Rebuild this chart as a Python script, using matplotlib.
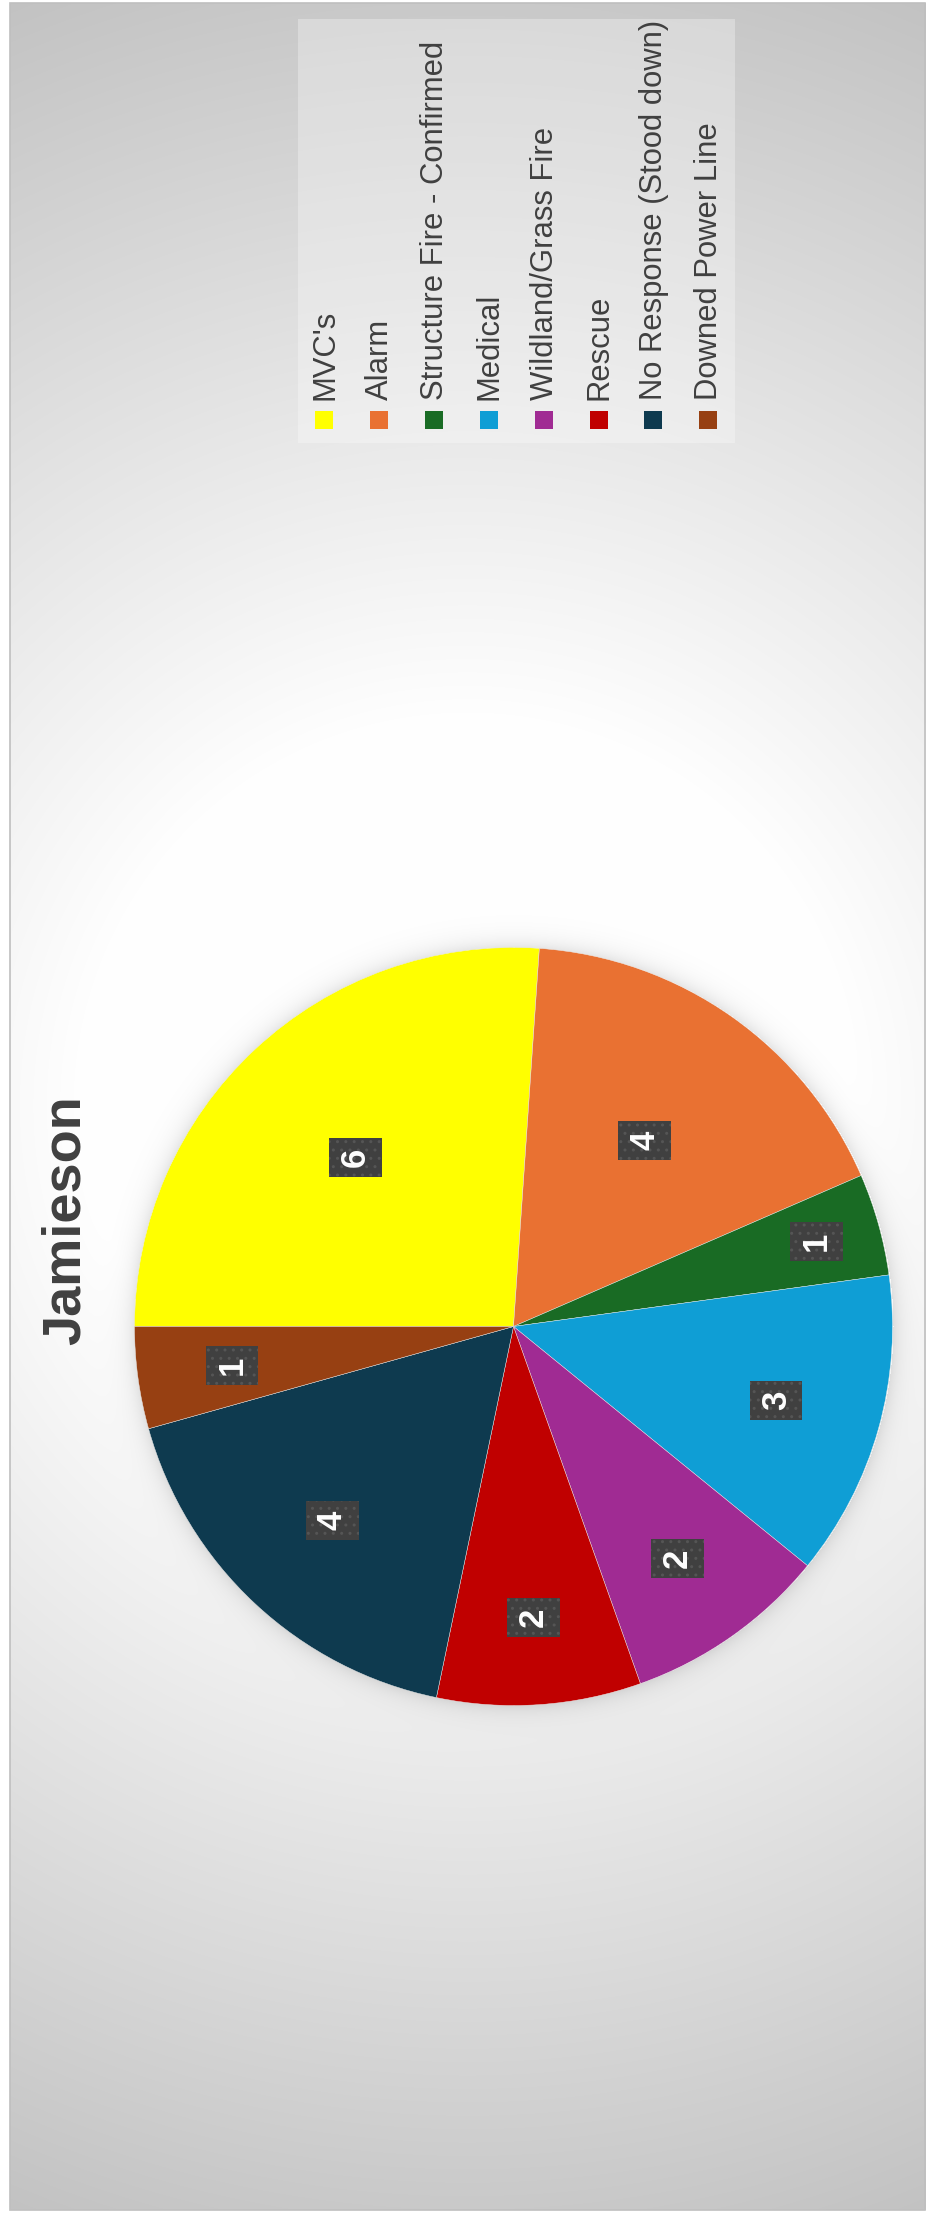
import numpy as np
import matplotlib
matplotlib.use("Agg")
import matplotlib.pyplot as plt
from matplotlib.patches import Rectangle

plt.rcParams['font.family'] = ['Liberation Sans', 'DejaVu Sans']

# Call counts by type
categories = ["MVC's", "Alarm", "Structure Fire - Confirmed", "Medical",
              "Wildland/Grass Fire", "Rescue", "No Response (Stood down)",
              "Downed Power Line"]
counts = [6, 4, 1, 3, 2, 2, 4, 1]
colors = ['#FFFF00', '#E97132', '#196B24', '#0F9ED5',
          '#A02B93', '#C00000', '#0E3A4F', '#974012']
title = "Jamieson"

# radial placement of the value boxes (fraction of radius)
label_r = [0.61, 0.60, 0.83, 0.72, 0.75, 0.77, 0.70, 0.75]

W, H = 930, 2213
fig = plt.figure(figsize=(W / 100, H / 100), dpi=100)

# background: radial grey gradient plus a soft glow round the pie
bg = fig.add_axes([0, 0, 1, 1])
bg.set_xlim(0, W)
bg.set_ylim(H, 0)
bg.axis('off')

cx, cy, R = 513.5, 1326.5, 379.0
yy, xx = np.mgrid[0:H, 0:W] + 0.5
r = np.hypot(xx - 467, yy - 1106)
t = np.clip((r - 380) / (1200 - 380), 0, 1)
shade = 1 - 0.24 * t
d = np.hypot(xx - cx, yy - cy) - R
glow = np.where(d > 0, 0.10 * np.exp(-d / 10.0), 0)
shade = shade - glow
img = np.dstack([shade] * 3)
inside = (xx > 10) & (xx < 925) & (yy > 3) & (yy < 2210)
img[~inside] = 1.0
bg.imshow(img, extent=(0, W, H, 0), interpolation='bilinear', zorder=0)
bg.add_patch(Rectangle((10, 3), 915, 2207, fill=False, edgecolor='#bfbfbf',
                       linewidth=1.2, zorder=1))

# title
bg.text(66, 1220, title, rotation=90, ha='center', va='center',
        fontsize=39, fontweight='bold', color='#404040', zorder=3)

# legend
bg.add_patch(Rectangle((298, 19), 437, 424, facecolor='white', alpha=0.3,
                       edgecolor='none', zorder=2))
for i, (lab, col) in enumerate(zip(categories, colors)):
    x = 324 + i * 54.9
    bg.add_patch(Rectangle((x - 9, 411), 18, 18, facecolor=col,
                           edgecolor='none', zorder=3))
    bg.text(x + 1, 400, lab, rotation=90, rotation_mode='anchor',
            ha='left', va='center', fontsize=22.3, color='#404040', zorder=3)

# pie
ax = fig.add_axes([(cx - R) / W, (H - cy - R) / H, 2 * R / W, 2 * R / H])
wedges, _ = ax.pie(counts, colors=colors, startangle=180, counterclock=False,
                   radius=1, wedgeprops=dict(linewidth=0.3, edgecolor='#e8e8e8'))
ax.set_xlim(-1, 1)
ax.set_ylim(-1, 1)
ax.set_aspect('equal')
ax.axis('off')

for w, val, lr in zip(wedges, counts, label_r):
    mid = np.deg2rad((w.theta1 + w.theta2) / 2)
    ax.text(lr * np.cos(mid), lr * np.sin(mid), str(val), rotation=90,
            ha='center', va='center', fontsize=25, fontweight='bold',
            color='white',
            bbox=dict(boxstyle='square,pad=0.28', facecolor='#404040',
                      edgecolor='#555555', linewidth=0, hatch='..'))

fig.savefig('out.png', dpi=100)
